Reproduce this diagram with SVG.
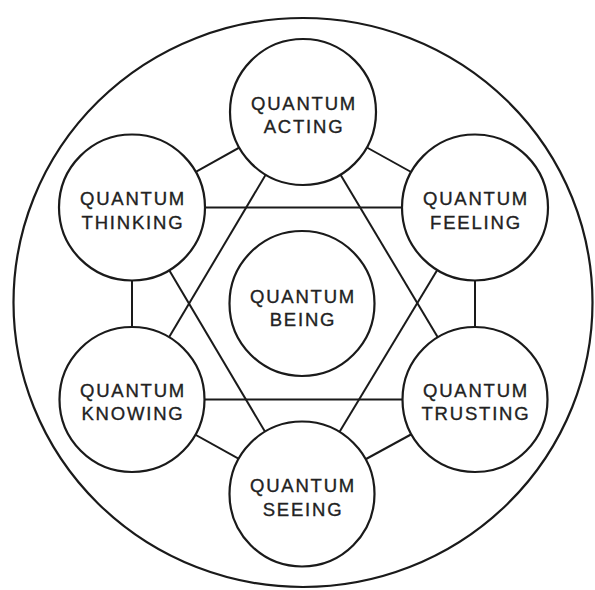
<svg xmlns="http://www.w3.org/2000/svg" width="595" height="590" viewBox="0 0 595 590">
<style>
.c{fill:#fff;stroke:#1a1a1a;stroke-width:2.2}
.l{stroke:#1a1a1a;stroke-width:2;fill:none}
.t{font-family:"Liberation Sans","DejaVu Sans",sans-serif;font-size:18.5px;fill:#222;stroke:#222;stroke-width:0.35;text-anchor:middle;letter-spacing:1.8px}
</style>
<rect width="595" height="590" fill="#fff"/>
<ellipse id="outer" cx="303" cy="302.5" rx="289.5" ry="284.5" class="c"/>
<g id="connectors">
<line class="l" x1="303" y1="112" x2="132" y2="207.5"/>
<line class="l" x1="303" y1="112" x2="475" y2="207.5"/>
<line class="l" x1="132" y1="207.5" x2="132" y2="399.5"/>
<line class="l" x1="475" y1="207.5" x2="475" y2="399.5"/>
<line class="l" x1="132" y1="399.5" x2="302" y2="494"/>
<line class="l" x1="475" y1="399.5" x2="302" y2="494"/>
<line class="l" x1="303" y1="112" x2="132" y2="399.5"/>
<line class="l" x1="303" y1="112" x2="475" y2="399.5"/>
<line class="l" x1="132" y1="399.5" x2="475" y2="399.5"/>
<line class="l" x1="132" y1="207.5" x2="475" y2="207.5"/>
<line class="l" x1="132" y1="207.5" x2="302" y2="494"/>
<line class="l" x1="475" y1="207.5" x2="302" y2="494"/>
</g>
<g id="acting"><circle class="c" cx="303" cy="112" r="73"/><text class="t" x="304" y="110">QUANTUM</text><text class="t" x="304" y="133">ACTING</text></g>
<g id="thinking"><circle class="c" cx="132" cy="207.5" r="73"/><text class="t" x="133" y="205">QUANTUM</text><text class="t" x="133" y="229">THINKING</text></g>
<g id="feeling"><circle class="c" cx="475" cy="207.5" r="73"/><text class="t" x="476" y="205">QUANTUM</text><text class="t" x="476" y="229">FEELING</text></g>
<g id="being"><circle class="c" cx="302" cy="303.5" r="72.5"/><text class="t" x="303" y="303">QUANTUM</text><text class="t" x="303" y="326">BEING</text></g>
<g id="knowing"><circle class="c" cx="132" cy="399.5" r="72.5"/><text class="t" x="133" y="397">QUANTUM</text><text class="t" x="133" y="420">KNOWING</text></g>
<g id="trusting"><circle class="c" cx="475" cy="399.5" r="72.5"/><text class="t" x="476" y="397">QUANTUM</text><text class="t" x="476" y="420">TRUSTING</text></g>
<g id="seeing"><circle class="c" cx="302" cy="494" r="72.5"/><text class="t" x="303" y="492">QUANTUM</text><text class="t" x="303" y="516">SEEING</text></g>
</svg>
